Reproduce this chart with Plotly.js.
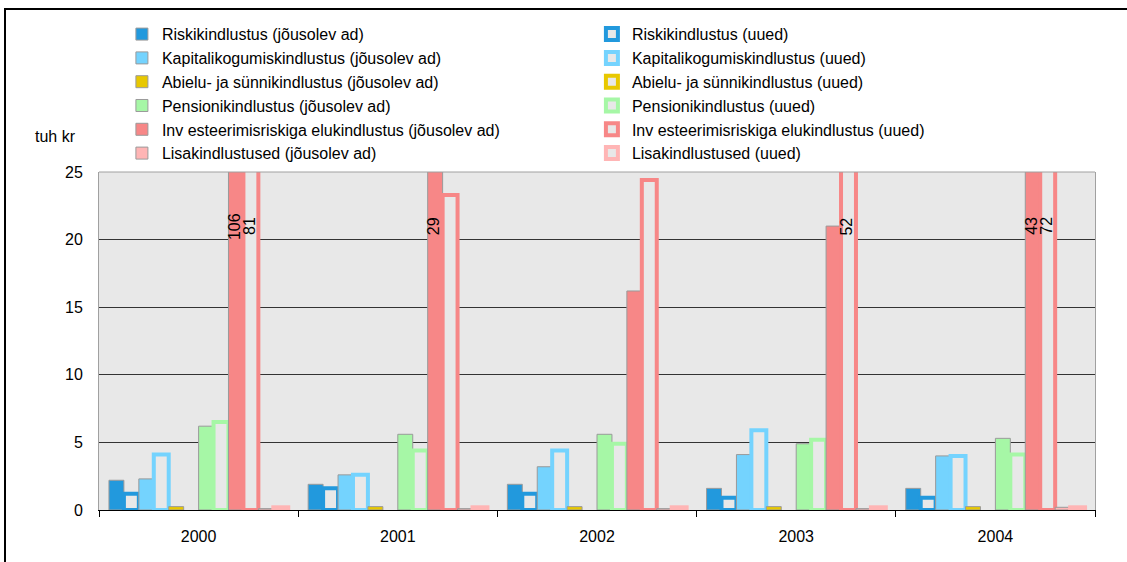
<!DOCTYPE html>
<html>
<head>
<meta charset="utf-8">
<script src="https://cdn.plot.ly/plotly-3.0.1.min.js"></script>
<style>
  html, body { margin: 0; padding: 0; background: #fff; }
  #wrap { position: relative; width: 1127px; height: 562px; overflow: hidden; }
  #chart { position: absolute; left: 0; top: 0; width: 1127px; height: 562px; }
  #frame { position: absolute; left: 4px; top: 8px; width: 2000px; height: 2000px;
           border-left: 2px solid #000; border-top: 2px solid #000; pointer-events: none; }
</style>
</head>
<body>
<div id="wrap">
  <div id="chart"></div>
  <div id="frame"></div>
</div>
<script>
// ---- data (tuh kr) ----
const years = ['2000', '2001', '2002', '2003', '2004'];

const riskiJ    = [2.2, 1.9, 1.9, 1.6, 1.6];
const riskiU    = [1.2, 1.6, 1.2, 0.9, 0.9];
const kapitalJ  = [2.3, 2.6, 3.2, 4.1, 4.0];
const kapitalU  = [4.1, 2.6, 4.4, 5.9, 4.0];
const abieluJ   = [0.25, 0.25, 0.25, 0.25, 0.25];
const abieluU   = [null, null, null, null, null];
const pensionJ  = [6.2, 5.6, 5.6, 4.9, 5.3];
const pensionU  = [6.5, 4.4, 4.9, 5.2, 4.1];
const investJ   = [106, 29, 16.2, 21.0, 43];
const investU   = [81, 23.3, 24.4, 52, 72];
const lisaJ     = [0.1, 0.1, 0.1, 0.1, 0.2];
const lisaU     = [0.2, 0.2, 0.2, 0.2, 0.2];

const seriesNames = [
  'Riskikindlustus (jõusolev ad)', 'Riskikindlustus (uued)',
  'Kapitalikogumiskindlustus (jõusolev ad)', 'Kapitalikogumiskindlustus (uued)',
  'Abielu- ja sünnikindlustus (jõusolev ad)', 'Abielu- ja sünnikindlustus (uued)',
  'Pensionikindlustus (jõusolev ad)', 'Pensionikindlustus (uued)',
  'Inv esteerimisriskiga elukindlustus (jõusolev ad)', 'Inv esteerimisriskiga elukindlustus (uued)',
  'Lisakindlustused (jõusolev ad)', 'Lisakindlustused (uued)'
];
const seriesValues = [riskiJ, riskiU, kapitalJ, kapitalU, abieluJ, abieluU,
                      pensionJ, pensionU, investJ, investU, lisaJ, lisaU];
const typeColors = ['#2299dd', '#74d3fe', '#e8c800', '#a6f7a6', '#f78787', '#ffb5b5'];

const yMax = 25;
const yUnitLabel = 'tuh kr';

// ---- styling ----
const FONT = '"Liberation Sans", Arial, sans-serif';
const PLOT_BG = '#e8e8e8';
const BARGAP = 0.1;
const margin = {l: 99, r: 32, t: 172, b: 52, pad: 0};
const W = 1127, H = 562;

const traces = seriesNames.map((name, i) => {
  const color = typeColors[Math.floor(i / 2)];
  const isNew = i % 2 === 1;
  return {
    type: 'bar',
    name: name,
    x: years,
    y: seriesValues[i],
    marker: isNew
      ? {color: PLOT_BG, line: {color: color, width: 4}}
      : {color: color, line: {color: '#9a9a9a', width: 1}},
    hoverinfo: 'skip'
  };
});

// labels for bars that run past the top of the axis
const plotW = W - margin.l - margin.r;
const slot = plotW / years.length * (1 - BARGAP) / seriesNames.length;
const annotations = [];
seriesValues.forEach((vals, i) => {
  vals.forEach((v, c) => {
    if (v !== null && v > yMax) {
      annotations.push({
        x: c, xref: 'x', xanchor: 'center',
        y: 0.84, yref: 'paper', yanchor: 'middle',
        text: String(v), textangle: -90, showarrow: false,
        xshift: (i - (seriesNames.length - 1) / 2) * slot - 2,
        font: {family: FONT, size: 16, color: '#000'}
      });
    }
  });
});
annotations.push({
  x: -0.021, xref: 'paper', xanchor: 'right',
  y: 1.104, yref: 'paper', yanchor: 'middle',
  text: yUnitLabel, showarrow: false,
  font: {family: FONT, size: 16, color: '#000'}
});

const layout = {
  width: W, height: H,
  margin: margin,
  paper_bgcolor: '#fff',
  plot_bgcolor: PLOT_BG,
  font: {family: FONT, size: 16, color: '#000'},
  barmode: 'group',
  bargap: BARGAP,
  bargroupgap: 0,
  showlegend: true,
  legend: {
    orientation: 'h',
    x: 0.023, xanchor: 'left',
    y: 1.458, yanchor: 'top',
    entrywidth: 425, entrywidthmode: 'pixels',
    bgcolor: 'rgba(0,0,0,0)',
    font: {family: FONT, size: 16, color: '#000'},
    traceorder: 'normal',
    itemclick: false, itemdoubleclick: false
  },
  xaxis: {
    type: 'category',
    range: [-0.5, years.length - 0.5],
    tickson: 'boundaries',
    ticks: 'outside', ticklen: 6, tickcolor: '#000', tickwidth: 1,
    showline: true, linecolor: '#000', linewidth: 1,
    showgrid: false,
    tickangle: 0,
    ticklabelstandoff: 12,
    tickfont: {family: FONT, size: 16, color: '#000'},
    fixedrange: true
  },
  yaxis: {
    range: [0, yMax], dtick: 5, tick0: 0,
    showgrid: true, gridcolor: '#333', gridwidth: 1,
    showline: true, mirror: true, linecolor: '#a0a0a0', linewidth: 1,
    zeroline: false, ticks: '',
    ticklabelstandoff: 12,
    tickfont: {family: FONT, size: 16, color: '#000'},
    fixedrange: true
  },
  shapes: [{
    type: 'line', xref: 'paper', yref: 'paper',
    x0: 0, x1: 1, y0: 1, y1: 1,
    line: {color: '#a0a0a0', width: 1}
  }],
  annotations: annotations
};

Plotly.newPlot('chart', traces, layout, {displayModeBar: false, staticPlot: true});
</script>
</body>
</html>
